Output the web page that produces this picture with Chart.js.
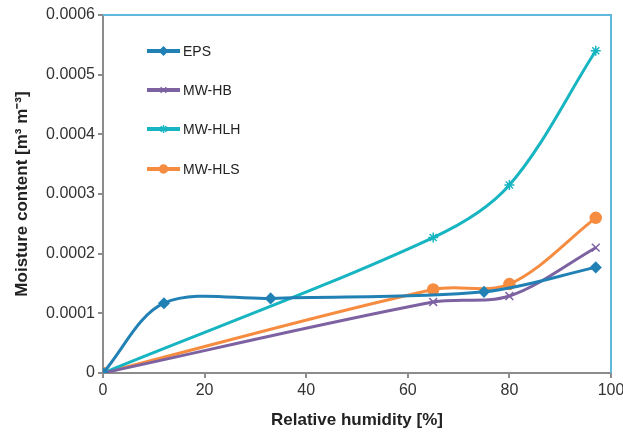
<!DOCTYPE html>
<html>
<head>
<meta charset="utf-8">
<script src="https://cdn.jsdelivr.net/npm/chart.js@4/dist/chart.umd.min.js"></script>
<style>
  html, body { margin: 0; padding: 0; background: #fff; }
  #myChart { display: block; }
</style>
</head>
<body>
<canvas id="myChart" width="623" height="432"></canvas>
<script>
// relative humidity [%] and moisture content [m3 m-3] per material
var epsX = [0, 12, 33, 75, 97];
var epsY = [0, 0.000117, 0.000125, 0.000136, 0.000177];

var hbX = [0, 65, 80, 97];
var hbY = [0, 0.000119, 0.000129, 0.00021];

var hlhX = [0, 65, 80, 97];
var hlhY = [0, 0.000227, 0.000315, 0.00054];

var hlsX = [0, 65, 80, 97];
var hlsY = [0, 0.00014, 0.000149, 0.00026];

var xTicks = [0, 20, 40, 60, 80, 100];
var yTicks = [0, 0.0001, 0.0002, 0.0003, 0.0004, 0.0005, 0.0006];
var yTickLabels = ['0', '0.0001', '0.0002', '0.0003', '0.0004', '0.0005', '0.0006'];

var FONT = "'Liberation Sans', Arial, sans-serif";
var AXIS_GREY = '#8c8c8c';

function toPoints(xs, ys) {
  return xs.map(function(x, i) { return { x: x, y: ys[i] }; });
}

function series(label, xs, ys, color, style, radius) {
  return {
    label: label,
    data: toPoints(xs, ys),
    borderColor: color,
    backgroundColor: color,
    pointBackgroundColor: color,
    pointBorderColor: color,
    pointStyle: style,
    pointRadius: radius,
    pointBorderWidth: 1.5,
    borderWidth: 3,
    tension: 0.33,
    showLine: true,
    fill: false
  };
}

// legend sits inside the plot, one row per series
var insideLegend = {
  id: 'insideLegend',
  afterDatasetsDraw: function(chart) {
    var ctx = chart.ctx;
    var rows = [51, 90, 129, 169];
    chart.data.datasets.forEach(function(ds, i) {
      var y = rows[i];
      ctx.save();
      ctx.strokeStyle = ds.borderColor;
      ctx.lineWidth = 4;
      ctx.beginPath();
      ctx.moveTo(147, y);
      ctx.lineTo(180, y);
      ctx.stroke();
      ctx.fillStyle = ds.borderColor;
      ctx.strokeStyle = ds.borderColor;
      ctx.lineWidth = 1.5;
      Chart.helpers.drawPoint(ctx, {
        pointStyle: ds.pointStyle,
        radius: 4,
        rotation: 0,
        borderWidth: 1.5
      }, 163.5, y);
      ctx.fillStyle = '#222';
      ctx.font = '14px ' + FONT;
      ctx.textBaseline = 'middle';
      ctx.textAlign = 'left';
      ctx.fillText(ds.label, 183, y + 1);
      ctx.restore();
    });
  }
};

// light blue frame on the top and right of the plot area
var frame = {
  id: 'frame',
  beforeDatasetsDraw: function(chart) {
    var a = chart.chartArea;
    var ctx = chart.ctx;
    ctx.save();
    ctx.strokeStyle = '#62b8dc';
    ctx.lineWidth = 2;
    ctx.beginPath();
    ctx.moveTo(a.left, a.top);
    ctx.lineTo(a.right, a.top);
    ctx.lineTo(a.right, a.bottom);
    ctx.stroke();
    ctx.restore();
  }
};

function getChart() {
  var ctx = document.getElementById('myChart').getContext('2d');
  var myChart = new Chart(ctx, {
    type: 'scatter',
    data: {
      datasets: [
        series('EPS', epsX, epsY, '#2181b5', 'rectRot', 5),
        series('MW-HB', hbX, hbY, '#7d62a2', 'crossRot', 5.5),
        series('MW-HLH', hlhX, hlhY, '#17b4c1', 'star', 5),
        series('MW-HLS', hlsX, hlsY, '#f58c40', 'circle', 5.5)
      ]
    },
    options: {
      responsive: false,
      animation: false,
      layout: { padding: { top: 15, right: 12, left: 0, bottom: 0 } },
      plugins: {
        legend: { display: false },
        tooltip: { enabled: false }
      },
      scales: {
        x: {
          type: 'linear',
          min: 0,
          max: 100,
          afterFit: function(scale) {
            scale.height = 59;
            scale.paddingLeft = 0;
            scale.paddingRight = 0;
          },
          afterBuildTicks: function(scale) {
            scale.ticks = xTicks.map(function(v) { return { value: v }; });
          },
          ticks: {
            color: '#333',
            font: { family: FONT, size: 16 },
            padding: 3,
            maxRotation: 0
          },
          grid: {
            drawOnChartArea: false,
            drawTicks: true,
            tickLength: 5,
            color: AXIS_GREY,
            lineWidth: 2
          },
          border: { color: AXIS_GREY, width: 2 },
          title: {
            display: true,
            text: 'Relative humidity [%]',
            color: '#222',
            font: { family: FONT, size: 17, weight: 'bold' },
            padding: { top: 0, bottom: 1 }
          }
        },
        y: {
          type: 'linear',
          min: 0,
          max: 0.0006,
          afterFit: function(scale) {
            scale.width = 103;
            scale.paddingTop = 0;
            scale.paddingBottom = 0;
          },
          afterBuildTicks: function(scale) {
            scale.ticks = yTicks.map(function(v) { return { value: v }; });
          },
          ticks: {
            color: '#333',
            font: { family: FONT, size: 16 },
            padding: 3,
            callback: function(value) {
              return yTickLabels[yTicks.indexOf(value)];
            }
          },
          grid: {
            drawOnChartArea: false,
            drawTicks: true,
            tickLength: 5,
            color: AXIS_GREY,
            lineWidth: 2
          },
          border: { color: AXIS_GREY, width: 2 },
          title: {
            display: true,
            text: 'Moisture content [m\u00b3 m\u207b\u00b3]',
            color: '#222',
            font: { family: FONT, size: 17, weight: 'bold' },
            padding: { top: 12, bottom: 0 }
          }
        }
      }
    },
    plugins: [frame, insideLegend]
  });
}

getChart();
</script>
</body>
</html>
